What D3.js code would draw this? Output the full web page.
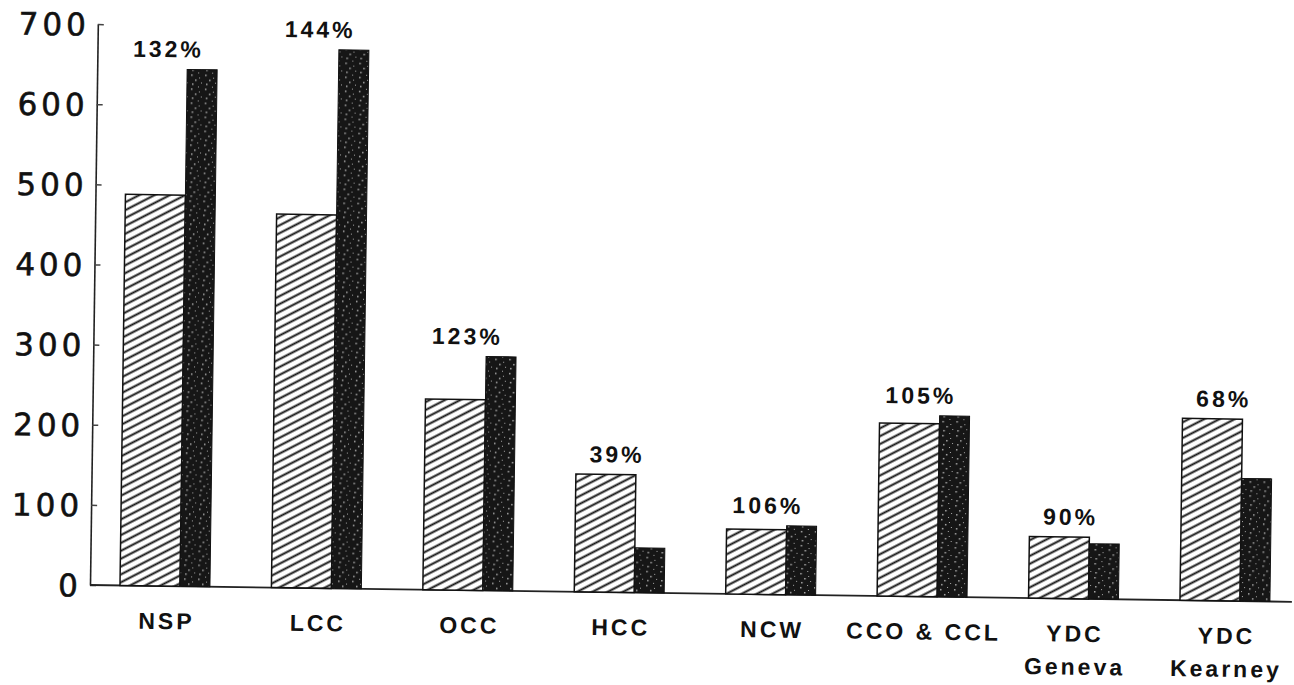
<!DOCTYPE html>
<html>
<head>
<meta charset="utf-8">
<script src="https://cdn.jsdelivr.net/npm/d3@7"></script>
<style>
  body { margin: 0; background: #fff; }
  svg { display: block; }
  .ylab text { font-family: "DejaVu Sans", sans-serif; font-size: 31px; letter-spacing: 4px; fill: #111; stroke: #111; stroke-width: 0.6px; }
  .cat, .pct { font-family: "Liberation Sans", Arial, sans-serif; font-weight: bold; fill: #111; }
</style>
</head>
<body>
<div class="container"></div>
<script>
// categories and values
var categories = ['NSP', 'LCC', 'OCC', 'HCC', 'NCW', 'CCO & CCL', 'YDC Geneva', 'YDC Kearney'];
var catLines = [['NSP'], ['LCC'], ['OCC'], ['HCC'], ['NCW'], ['CCO & CCL'], ['YDC', 'Geneva'], ['YDC', 'Kearney']];
var capacity = [488, 466, 238, 147, 81, 216, 77, 227];     // hatched bars
var population = [645, 672, 292, 56, 86, 226, 69, 153];    // dark bars
var pctLabels = ['132%', '144%', '123%', '39%', '106%', '105%', '90%', '68%'];
var yTicks = [0, 100, 200, 300, 400, 500, 600, 700];

var W = 1294, H = 685;

var svg = d3.select('.container').append('svg')
            .attr('width', W)
            .attr('height', H);

var defs = svg.append('defs');

// hatch pattern: shallow diagonal strokes going up to the right
var hatch = defs.append('pattern')
                .attr('id', 'hatch')
                .attr('patternUnits', 'userSpaceOnUse')
                .attr('width', 20)
                .attr('height', 7)
                .attr('patternTransform', 'rotate(-28)');
hatch.append('rect').attr('width', 20).attr('height', 7).attr('fill', '#fff');
hatch.append('line')
     .attr('x1', 0).attr('y1', 3.5).attr('x2', 20).attr('y2', 3.5)
     .attr('stroke', '#151515').attr('stroke-width', 2);

// dark speckled pattern
var speck = defs.append('pattern')
                .attr('id', 'speck')
                .attr('patternUnits', 'userSpaceOnUse')
                .attr('width', 14)
                .attr('height', 14);
speck.append('rect').attr('width', 14).attr('height', 14).attr('fill', '#161616');
[[2, 3], [9, 1], [6, 8], [12, 11], [3, 12], [10, 6]].forEach(function(p, i){
  speck.append('rect')
       .attr('x', p[0]).attr('y', p[1])
       .attr('width', i % 2 ? 1 : 1.5).attr('height', i % 2 ? 1 : 1.5)
       .attr('fill', '#aaa');
});

// whole plot is slightly tilted like the scan
var g = svg.append('g').attr('transform', 'rotate(0.8, 90, 585)');

var x = d3.scaleBand()
          .domain(categories)
          .range([90, 1300])
          .paddingInner(0.406)
          .paddingOuter(0.198);

var y = d3.scaleLinear()
          .domain([0, 700])
          .range([585, 24]);

var bw = x.bandwidth();

// y axis with inward ticks
var yAxis = d3.axisLeft(y)
              .tickValues(yTicks)
              .tickSizeInner(-6)
              .tickSizeOuter(0)
              .tickPadding(8);

g.append('g')
 .attr('class', 'ylab')
 .attr('transform', 'translate(90,0)')
 .call(yAxis)
 .call(function(a){
   a.select('.domain').attr('stroke', '#222').attr('stroke-width', 1.6);
   a.selectAll('.tick line').attr('stroke', '#444').attr('stroke-width', 1.5);
   a.selectAll('text').attr('dy', '0.36em');
 });

// baseline
g.append('line')
 .attr('x1', 90).attr('x2', 1292)
 .attr('y1', y(0)).attr('y2', y(0))
 .attr('stroke', '#222')
 .attr('stroke-width', 1.8);

// hatched bars
g.selectAll('.cap')
 .data(capacity)
 .enter()
 .append('rect')
 .attr('class', 'cap')
 .attr('x', function(d, i){ return x(categories[i]); })
 .attr('y', function(d){ return y(d); })
 .attr('width', bw * 2 / 3)
 .attr('height', function(d){ return y(0) - y(d); })
 .attr('fill', 'url(#hatch)')
 .attr('stroke', '#111')
 .attr('stroke-width', 1.5);

// dark bars
g.selectAll('.pop')
 .data(population)
 .enter()
 .append('rect')
 .attr('class', 'pop')
 .attr('x', function(d, i){ return x(categories[i]) + bw * 2 / 3; })
 .attr('y', function(d){ return y(d); })
 .attr('width', bw / 3)
 .attr('height', function(d){ return y(0) - y(d); })
 .attr('fill', 'url(#speck)')
 .attr('stroke', '#111')
 .attr('stroke-width', 1);

// percent labels above the taller bar
g.selectAll('.pct')
 .data(pctLabels)
 .enter()
 .append('text')
 .attr('class', 'pct')
 .attr('x', function(d, i){ return x(categories[i]) + bw / 2 - 4; })
 .attr('y', function(d, i){ return y(Math.max(capacity[i], population[i])) - 12; })
 .attr('text-anchor', 'middle')
 .style('font-size', '23px')
 .style('letter-spacing', '3px')
 .text(function(d){ return d; });

// category labels
var cats = g.selectAll('.cat')
            .data(catLines)
            .enter()
            .append('text')
            .attr('class', 'cat')
            .attr('text-anchor', 'middle')
            .style('font-size', '23px')
            .style('letter-spacing', '3px');

cats.selectAll('tspan')
    .data(function(d, i){ return d.map(function(s){ return {s: s, i: i}; }); })
    .enter()
    .append('tspan')
    .attr('x', function(d){ return x(categories[d.i]) + bw / 2 + 2; })
    .attr('y', function(d, j){ return y(0) + 43 + j * 33; })
    .text(function(d){ return d.s; });
</script>
</body>
</html>
